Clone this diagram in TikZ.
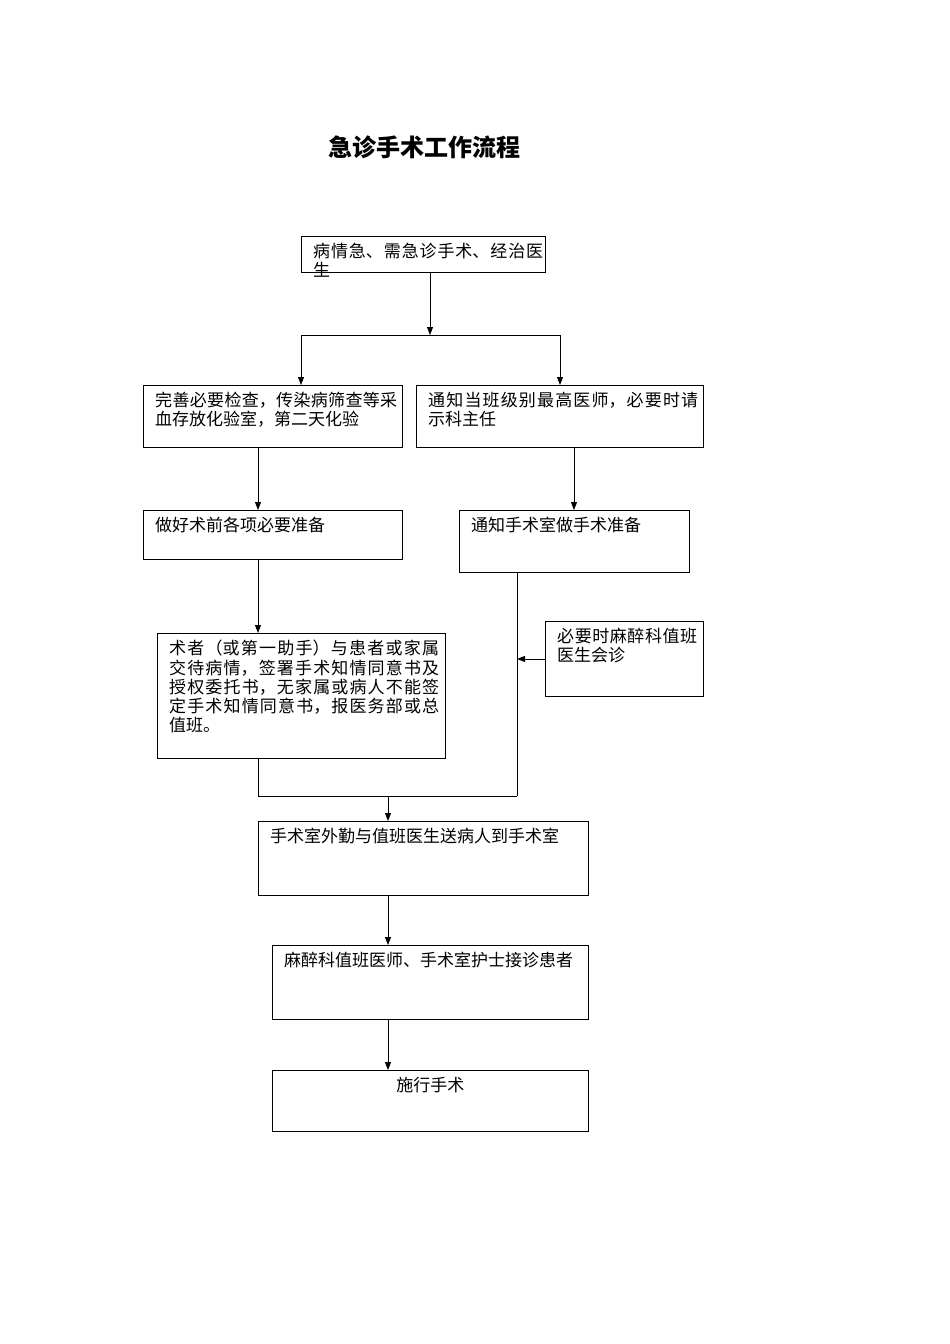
\documentclass[tikz,border=0pt]{standalone}
\usepackage{fontspec}
\setmainfont{Noto Sans CJK SC}
\XeTeXlinebreaklocale "zh"
\XeTeXlinebreakskip=0pt plus 1pt
\usetikzlibrary{calc,arrows.meta}
\tikzset{
 bx/.style={draw,line width=0.9pt,anchor=north west,inner sep=0pt},
 tx/.style={anchor=north west,inner sep=0pt,align=justify,font=\fontsize{17}{19.3}\selectfont},
 ar/.style={-{Triangle[length=8pt,width=6pt]},line width=0.9pt},
 ln/.style={line width=0.9pt}
}
\newcommand{\bbox}[7]{%
 \node[bx,minimum width=#3pt,minimum height=#4pt] (#5) at (#1,#2) {};
 \node[tx,text width=#7pt] (#5t) at ($(#5.north west)+(12,7)$) {#6};}
\begin{document}
\begin{tikzpicture}[x=1pt,y=-1pt]
\useasboundingbox (0,0) rectangle (950,1344);
\node[font=\fontsize{24}{28}\selectfont\bfseries] (title) at (424,147) {急诊手术工作流程};
\bbox{301}{236}{244}{36}{b1}{病情急、需急诊手术、经治医生}{230}
\bbox{143}{385}{259}{62}{b2}{完善必要检查，传染病筛查等采血存放化验室，第二天化验}{242}
\bbox{416}{385}{287}{62}{b3}{通知当班级别最高医师，必要时请示科主任}{270}
\bbox{143}{510}{259}{49}{b4}{做好术前各项必要准备}{240}
\bbox{459}{510}{230}{62}{b5}{通知手术室做手术准备}{210}
\bbox{545}{621}{158}{75}{b6}{必要时麻醉科值班医生会诊}{140}
\bbox{157}{633}{288}{125}{b7}{术者（或第一助手）与患者或家属交待病情，签署手术知情同意书及授权委托书，无家属或病人不能签定手术知情同意书，报医务部或总值班。}{270}
\bbox{258}{821}{330}{74}{b8}{手术室外勤与值班医生送病人到手术室}{315}
\bbox{272}{945}{316}{74}{b9}{麻醉科值班医师、手术室护士接诊患者}{300}
\node[bx,minimum width=316pt,minimum height=61pt] (b10) at (272,1070) {};
\node[tx,anchor=north] (b10t) at ($(b10.north)+(0,7)$) {施行手术};
\coordinate (j1) at (430,335);
\coordinate (jl) at (301,335);
\coordinate (jr) at (560,335);
\coordinate (j2) at (258,796);
\coordinate (j3) at (517,796);
\coordinate (j4) at (388,796);
\draw[ar] (b1.south -| j1) -- (j1) ;
\draw[ln] (jl) -- (jr);
\draw[ar] (jl) -- (jl |- b2.north);
\draw[ar] (jr) -- (jr |- b3.north);
\draw[ar] (258,447) -- (258,510);
\draw[ar] (574,447) -- (574,510);
\draw[ar] (258,559) -- (258,633);
\draw[ln] (j3 |- b5.south) -- (j3);
\draw[ar] (b6.west) -- (b6.west -| j3);
\draw[ln] (j2 |- b7.south) -- (j2) -- (j3);
\draw[ar] (j4) -- (j4 |- b8.north);
\draw[ar] (j4 |- b8.south) -- (j4 |- b9.north);
\draw[ar] (j4 |- b9.south) -- (j4 |- b10.north);
\end{tikzpicture}
\end{document}
